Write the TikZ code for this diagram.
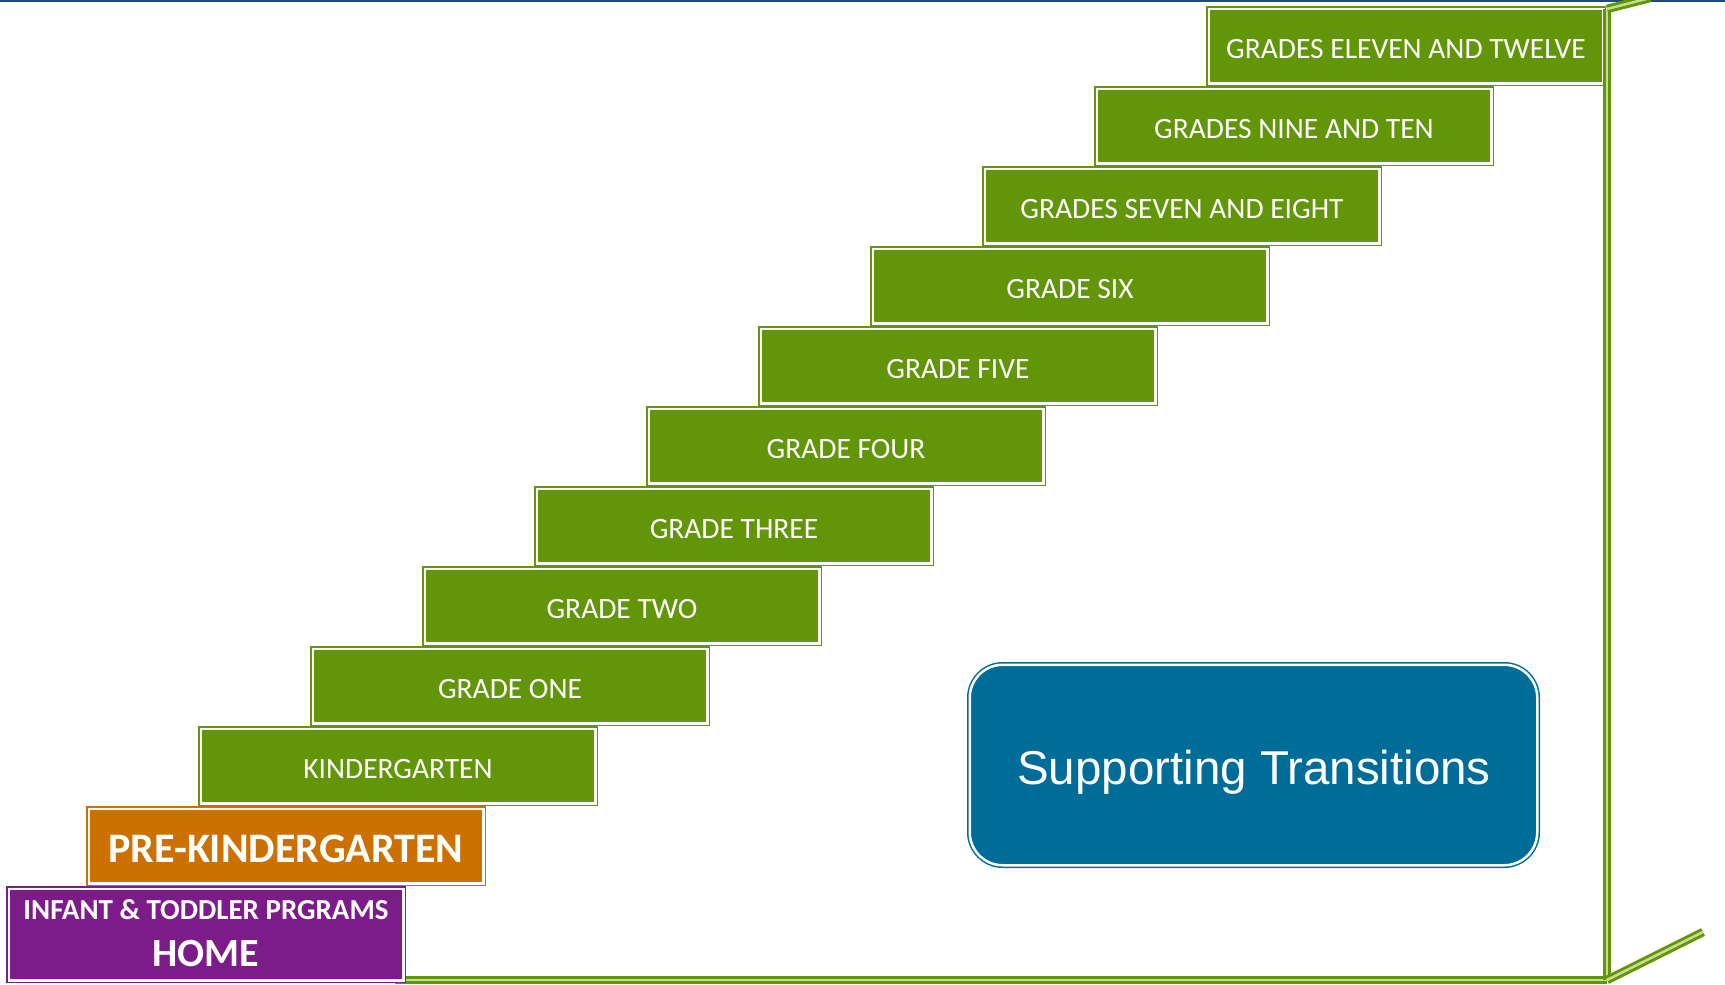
\documentclass[tikz,border=0pt]{standalone}
\usepackage{fontspec}
\setmainfont{Carlito}
\newfontfamily\arialf{Liberation Sans}
\definecolor{stepgreen}{RGB}{98,150,8}
\definecolor{paleg}{RGB}{196,220,150}
\definecolor{preorange}{RGB}{204,113,0}
\definecolor{infpurple}{RGB}{124,28,136}
\definecolor{stblue}{RGB}{0,108,152}
\definecolor{topblue}{RGB}{31,73,125}
\tikzset{
  stepbox/.style={draw=#1, fill=#1, line width=1.5pt, double=white, double distance=2.5pt,
    text=white, inner sep=0pt, minimum width=394.5pt, minimum height=74.5pt},
  greenbox/.style={stepbox=stepgreen, font=\fontsize{29.5}{34}\selectfont, text height=25pt, text depth=0pt},
  frameline/.style={draw=stepgreen, line width=3pt, double=paleg, double distance=2.5pt},
  wlabel/.style={text=white, inner sep=0pt, anchor=base}
}
\begin{document}
\begin{tikzpicture}[x=1pt,y=-1pt]
\useasboundingbox (0,0) rectangle (1725,985);
\begin{scope}
\clip (0,0) rectangle (1725,985);
% frame coordinates
\coordinate (poleTop) at (1607,9);
\coordinate (poleBot) at (1607,980);
\coordinate (floorL) at (395,980);
\coordinate (floorR) at (1703,932);
\coordinate (ceilR) at (1650,-2);
\coordinate (topL) at (0,1);
\coordinate (topR) at (1725,1);
\draw[topblue, line width=2pt] (topL) -- (topR);
\draw[frameline] (floorL) -- (poleBot);
% boxes
\node[stepbox=infpurple, minimum height=91.5pt] (inf) at (206,934.5) {};
\node[wlabel, font=\fontsize{29}{34}\selectfont\bfseries] (infT) at (206,919) {INFANT \& TODDLER PRGRAMS};
\node[wlabel, font=\fontsize{40}{46}\selectfont\bfseries] (home) at (206,966) {HOME};
\node[stepbox=preorange, font=\fontsize{42}{48}\selectfont\bfseries, text height=33pt, text depth=0pt] (prek) at (286,846) {PRE-KINDERGARTEN};
\node[greenbox] (k)   at (398,766) {KINDERGARTEN};
\node[greenbox] (g1)  at (510,686) {GRADE ONE};
\node[greenbox] (g2)  at (622,606) {GRADE TWO};
\node[greenbox] (g3)  at (734,526) {GRADE THREE};
\node[greenbox] (g4)  at (846,446) {GRADE FOUR};
\node[greenbox] (g5)  at (958,366) {GRADE FIVE};
\node[greenbox] (g6)  at (1070,286) {GRADE SIX};
\node[greenbox] (g78) at (1182,206) {GRADES SEVEN AND EIGHT};
\node[greenbox] (g910) at (1294,126) {GRADES NINE AND TEN};
\node[greenbox] (g1112) at (1406,46) {GRADES ELEVEN AND TWELVE};
% frame
\draw[frameline] (poleTop) -- (poleBot);
\draw[frameline] (poleBot) -- (floorR);
\draw[frameline] (poleTop) -- (ceilR);
% supporting transitions
\node[draw=stblue, fill=stblue, line width=1.5pt, double=white, double distance=2.5pt,
  rounded corners=33pt, minimum width=567.5pt, minimum height=200.5pt, inner sep=0pt] (st) at (1253.5,765) {};
\node[wlabel, font=\arialf\fontsize{47.5}{54}\selectfont] (stT) at (1254,784) {Supporting Transitions};
\end{scope}
\end{tikzpicture}
\end{document}
